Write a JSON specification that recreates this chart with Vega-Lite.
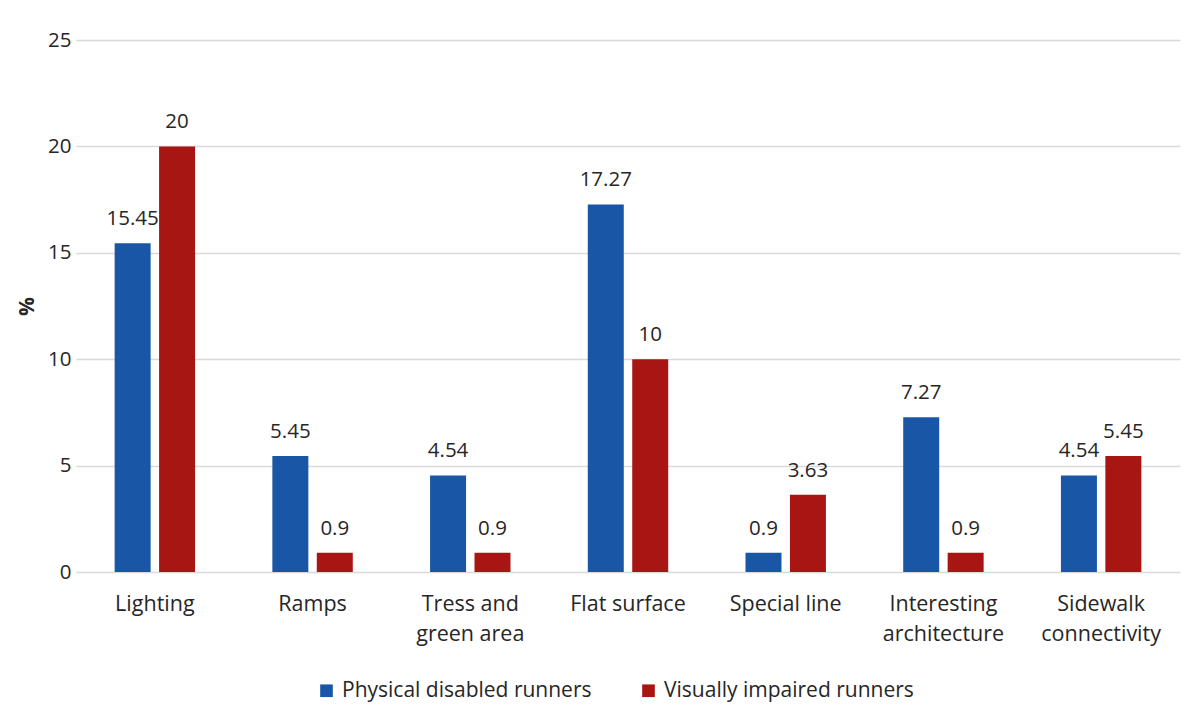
{
  "$schema": "https://vega.github.io/schema/vega-lite/v6.json",
  "width": 1104,
  "height": 532,
  "autosize": {"type": "none"},
  "padding": {"left": 76, "top": 40, "right": 21, "bottom": 150},
  "background": "white",
  "config": {
    "font": "Open Sans",
    "view": {"stroke": null},
    "axis": {"labelFont": "Open Sans", "titleFont": "Open Sans", "labelColor": "#262626", "titleColor": "#262626"},
    "legend": {"labelFont": "Open Sans"}
  },
  "data": {
    "values": [
      {"factor": "Lighting", "group": "Physical disabled runners", "pct": 15.45},
      {"factor": "Lighting", "group": "Visually impaired runners", "pct": 20},
      {"factor": "Ramps", "group": "Physical disabled runners", "pct": 5.45},
      {"factor": "Ramps", "group": "Visually impaired runners", "pct": 0.9},
      {"factor": "Tress and green area", "group": "Physical disabled runners", "pct": 4.54},
      {"factor": "Tress and green area", "group": "Visually impaired runners", "pct": 0.9},
      {"factor": "Flat surface", "group": "Physical disabled runners", "pct": 17.27},
      {"factor": "Flat surface", "group": "Visually impaired runners", "pct": 10},
      {"factor": "Special line", "group": "Physical disabled runners", "pct": 0.9},
      {"factor": "Special line", "group": "Visually impaired runners", "pct": 3.63},
      {"factor": "Interesting architecture", "group": "Physical disabled runners", "pct": 7.27},
      {"factor": "Interesting architecture", "group": "Visually impaired runners", "pct": 0.9},
      {"factor": "Sidewalk connectivity", "group": "Physical disabled runners", "pct": 4.54},
      {"factor": "Sidewalk connectivity", "group": "Visually impaired runners", "pct": 5.45}
    ]
  },
  "encoding": {
    "x": {
      "field": "factor",
      "type": "nominal",
      "sort": null,
      "scale": {"paddingInner": 0.49, "paddingOuter": 0.245},
      "axis": {
        "title": null,
        "domain": false,
        "ticks": false,
        "labelAngle": 0,
        "labelFontSize": 21.5,
        "labelPadding": 32,
        "labelLineHeight": 30,
        "labelBaseline": "middle",
        "labelExpr": "datum.value == 'Tress and green area' ? ['Tress and', 'green area'] : datum.value == 'Interesting architecture' ? ['Interesting', 'architecture'] : datum.value == 'Sidewalk connectivity' ? ['Sidewalk', 'connectivity'] : datum.value"
      }
    },
    "xOffset": {
      "field": "group",
      "type": "nominal",
      "scale": {"paddingInner": 0.19, "paddingOuter": 0}
    },
    "y": {
      "field": "pct",
      "type": "quantitative",
      "scale": {"domain": [0, 25], "nice": false},
      "axis": {
        "title": "%",
        "titleFontSize": 21,
        "titleFontWeight": "bold",
        "titlePadding": 10,
        "values": [0, 5, 10, 15, 20, 25],
        "domain": false,
        "ticks": false,
        "labelFontSize": 20.5,
        "labelPadding": 5,
        "gridColor": "#d9d9d9",
        "gridWidth": 1.5
      }
    }
  },
  "layer": [
    {
      "mark": {"type": "bar"},
      "encoding": {
        "color": {
          "field": "group",
          "type": "nominal",
          "scale": {
            "domain": ["Physical disabled runners", "Visually impaired runners"],
            "range": ["#1957A6", "#A81614"]
          },
          "legend": {
            "title": null,
            "orient": "none",
            "direction": "horizontal",
            "legendX": 240,
            "legendY": 640,
            "symbolType": "square",
            "symbolSize": 160,
            "symbolStrokeWidth": 0,
            "labelFontSize": 21,
            "labelLimit": 0,
            "labelColor": "#262626",
            "labelOffset": 5,
            "columnPadding": 46
          }
        }
      }
    },
    {
      "mark": {"type": "text", "fontSize": 20.5, "color": "#262626", "baseline": "alphabetic", "dy": -18},
      "encoding": {
        "text": {"field": "pct", "type": "quantitative"}
      }
    }
  ]
}
